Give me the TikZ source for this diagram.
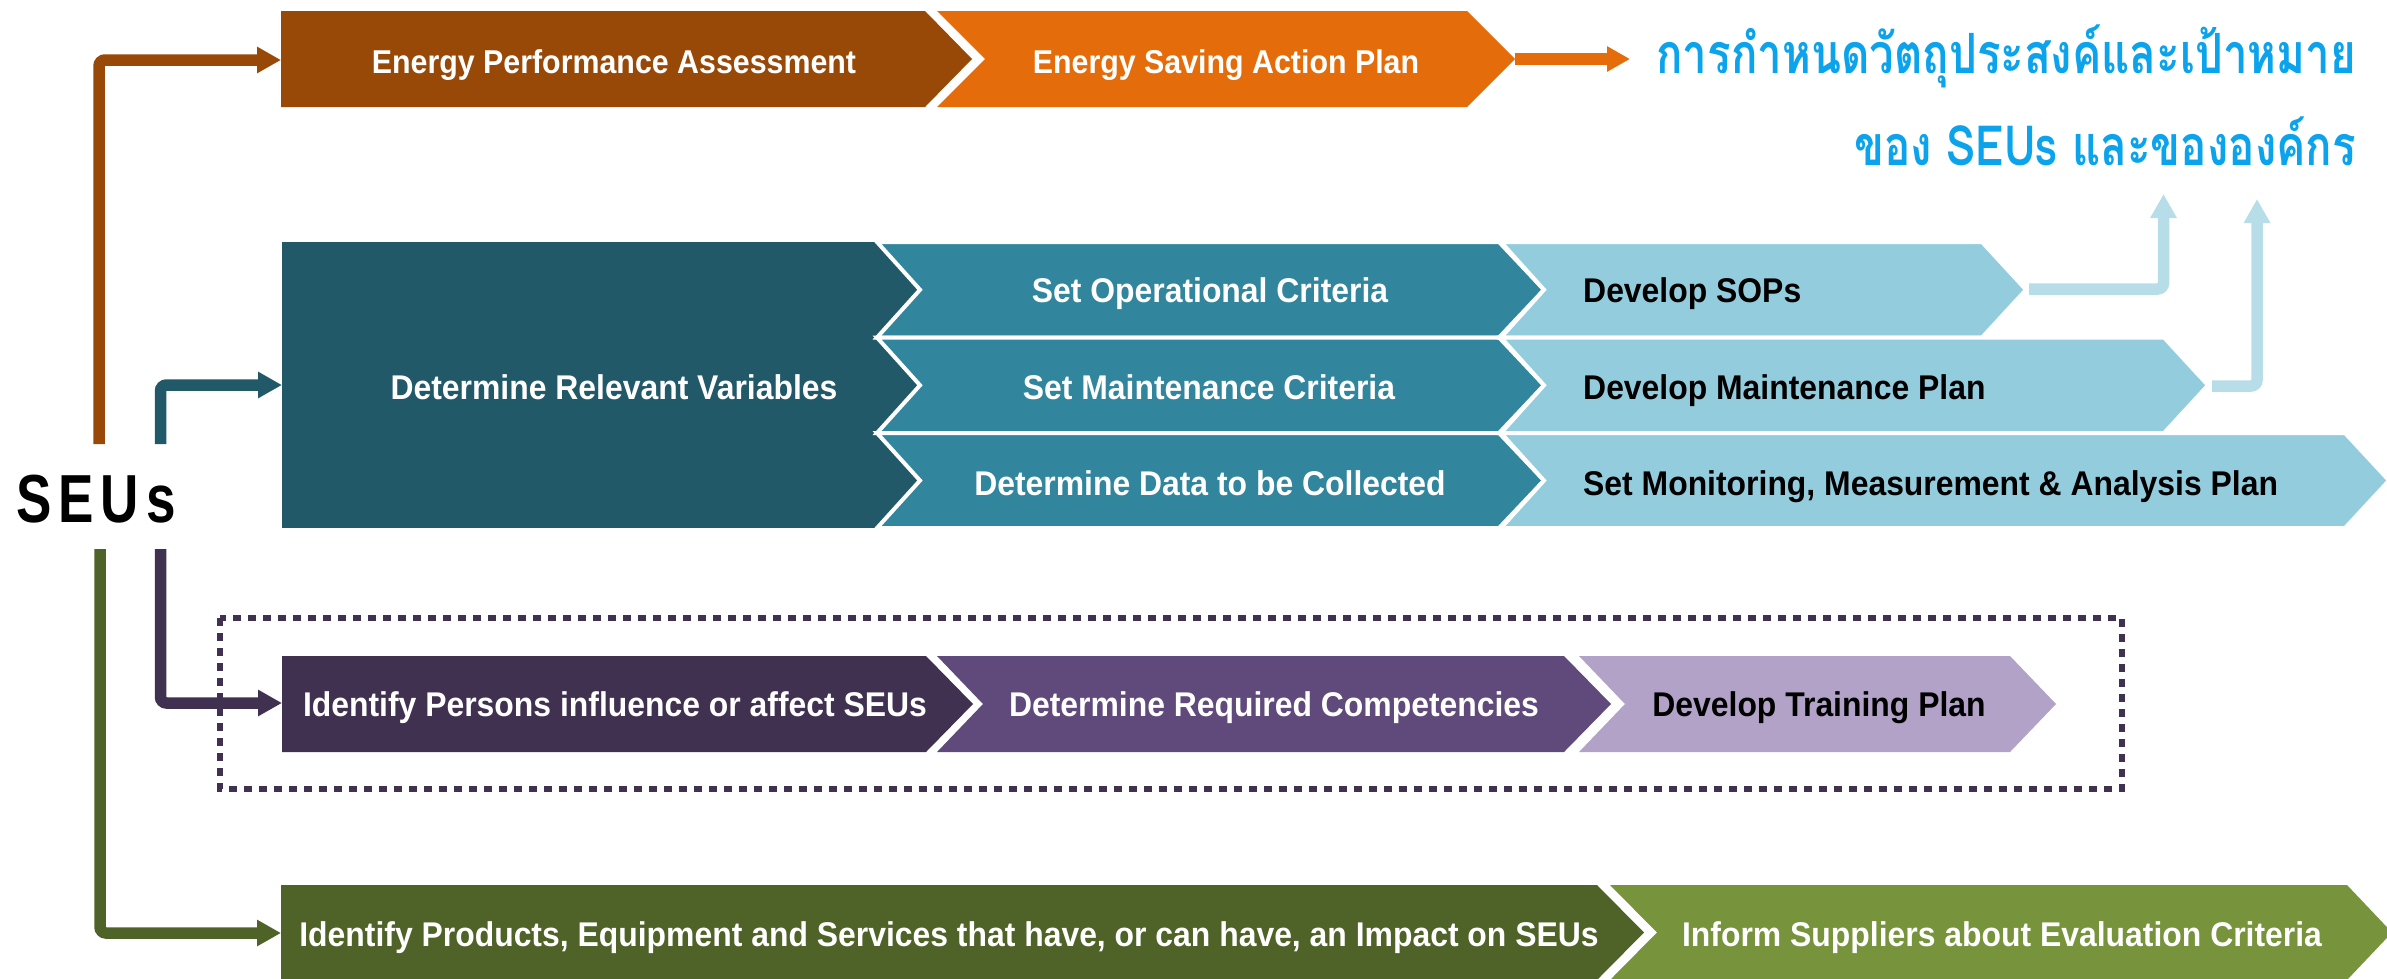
\documentclass[tikz,border=0pt]{standalone}
\usepackage{fontspec}
\usetikzlibrary{arrows.meta}
\newfontfamily\boxfont{Liberation Sans}[FakeStretch=0.92]
\newfontfamily\boxfontw{Liberation Sans}[FakeStretch=0.93]
\newfontfamily\seufont{Liberation Sans}[FakeStretch=0.78]
\newfontfamily\thaifont[Script=Thai, FakeStretch=0.79]{Loma}
\definecolor{brownA}{HTML}{984807}
\definecolor{orangeA}{HTML}{E46C0A}
\definecolor{tealD}{HTML}{215968}
\definecolor{tealM}{HTML}{31859C}
\definecolor{tealL}{HTML}{93CDDD}
\definecolor{tealXL}{HTML}{B7DEE8}
\definecolor{purD}{HTML}{403151}
\definecolor{purM}{HTML}{604A7B}
\definecolor{purL}{HTML}{B3A2C7}
\definecolor{grnD}{HTML}{4F6228}
\definecolor{grnM}{HTML}{77933C}
\definecolor{thaiblue}{HTML}{0BA3EC}
% #1 style, #2 left x, #3 notch x, #4 body end x, #5 point x, #6 top y, #7 bottom y
\newcommand\chevbox[7]{%
  \path[#1] (#2,#6) -- (#4,#6) -- (#5,{(#6+#7)/2}) -- (#4,#7) -- (#2,#7) -- (#3,{(#6+#7)/2}) -- cycle;}
\tikzset{
  toptxt/.style={font={\boxfont\bfseries\fontsize{33}{40}\selectfont}, text=white, inner sep=0pt, anchor=base},
  boxtxt/.style={font={\boxfontw\bfseries\fontsize{34.3}{40}\selectfont}, text=white, inner sep=0pt, anchor=base},
  boxtxtdark/.style={boxtxt, text=black},
  thaitxt/.style={font={\thaifont\bfseries\fontsize{55.5}{66}\selectfont}, text=thaiblue, inner sep=0pt},
  conn/.style={line width=11.5pt, rounded corners=6pt, -{Triangle[length=24pt,width=25pt]}},
  seam/.style={draw=white, line width=4pt, line join=miter},
}
\begin{document}
\begin{tikzpicture}[x=1pt,y=-1pt]
\useasboundingbox (0,0) rectangle (2387,978);

% ---------- top row ----------
\chevbox{fill=brownA}{281}{281}{925}{972}{11}{107}
\chevbox{fill=orangeA}{937}{985}{1467}{1515}{11}{107}
\node[toptxt] (epa) at (614,73) {Energy Performance Assessment};
\node[toptxt] (esap) at (1226,73) {Energy Saving Action Plan};
\node[thaitxt, anchor=base east] (obj1) at (2356,73) {การกำหนดวัตถุประสงค์และเป้าหมาย};
\node[thaitxt, anchor=base east] (obj2) at (2356,165) {ของ SEUs และขององค์กร};

% ---------- middle block ----------
\fill[tealD] (282,242) rectangle (930,528);
\chevbox{fill=tealM,seam}{877}{920}{1499}{1544}{242}{337.5}
\chevbox{fill=tealM,seam}{877}{920}{1499}{1544}{337.5}{433}
\chevbox{fill=tealM,seam}{877}{920}{1499}{1544}{433}{528}
\chevbox{fill=tealL,seam}{1501}{1544}{1982}{2026}{242}{337.5}
\chevbox{fill=tealL,seam}{1501}{1544}{2164}{2208}{337.5}{433}
\chevbox{fill=tealL,seam}{1501}{1544}{2345}{2389}{433}{528}
\node[boxtxt] (drv) at (614,399) {Determine Relevant Variables};
\node[boxtxt] (soc) at (1210,302) {Set Operational Criteria};
\node[boxtxt] (smc) at (1209,399) {Set Maintenance Criteria};
\node[boxtxt] (ddc) at (1210,495) {Determine Data to be Collected};
\node[boxtxtdark, anchor=base west] (sop) at (1583,302) {Develop SOPs};
\node[boxtxtdark, anchor=base west] (dmp) at (1583,399) {Develop Maintenance Plan};
\node[boxtxtdark, anchor=base west] (smm) at (1583,495) {Set Monitoring, Measurement \& Analysis Plan};

% ---------- purple row ----------
\draw[purD, line width=6.5pt, dash pattern=on 8pt off 7pt] (220,618) rectangle (2122,789);
\chevbox{fill=purD}{282}{282}{926}{973}{656}{752}
\chevbox{fill=purM}{937}{983}{1564}{1611}{656}{752}
\chevbox{fill=purL}{1579}{1625}{2010}{2056}{656}{752}
\node[boxtxt] (ipi) at (615,716) {Identify Persons influence or affect SEUs};
\node[boxtxt] (drc) at (1274,716) {Determine Required Competencies};
\node[boxtxtdark] (dtp) at (1819,716) {Develop Training Plan};

% ---------- green row ----------
\chevbox{fill=grnD}{281}{281}{1597}{1644}{885}{980}
\chevbox{fill=grnM}{1610}{1657}{2347}{2392}{885}{980}
\node[boxtxt] (ipe) at (949,946) {Identify Products, Equipment and Services that have, or can have, an Impact on SEUs};
\node[boxtxt] (isc) at (2002,946) {Inform Suppliers about Evaluation Criteria};

% ---------- SEUs ----------
\node[font={\seufont\bfseries\fontsize{68}{80}\selectfont}, inner sep=0pt, anchor=base] (seus) at (96,522) {S\kern7pt E\kern7pt U\kern7pt s};

% ---------- connectors ----------
\coordinate (brS) at (99,444);
\coordinate (epaIn) at (281,60);
\coordinate (tS) at (160.5,444);
\coordinate (drvIn) at (282,385);
\coordinate (pS) at (160.5,549);
\coordinate (ipiIn) at (282,703);
\coordinate (gS) at (100,549);
\coordinate (ipeIn) at (281,933);
\draw[conn, draw=brownA] (brS) |- (epaIn);
\draw[conn, draw=tealD] (tS) |- (drvIn);
\draw[conn, draw=purD] (pS) |- (ipiIn);
\draw[conn, draw=grnD] (gS) |- (ipeIn);

\coordinate (esapTip) at (1515,59);
\coordinate (objIn) at (1630,59);
\draw[line width=12pt, draw=orangeA, -{Triangle[length=23pt,width=24pt]}] (esapTip) -- (objIn);

\coordinate (sopOut) at (2029,289);
\coordinate (objUp1) at (2163.5,194);
\coordinate (dmpOut) at (2212,386);
\coordinate (objUp2) at (2257,199);
\draw[conn, draw=tealXL] (sopOut) -| (objUp1);
\draw[conn, draw=tealXL] (dmpOut) -| (objUp2);
\end{tikzpicture}
\end{document}
